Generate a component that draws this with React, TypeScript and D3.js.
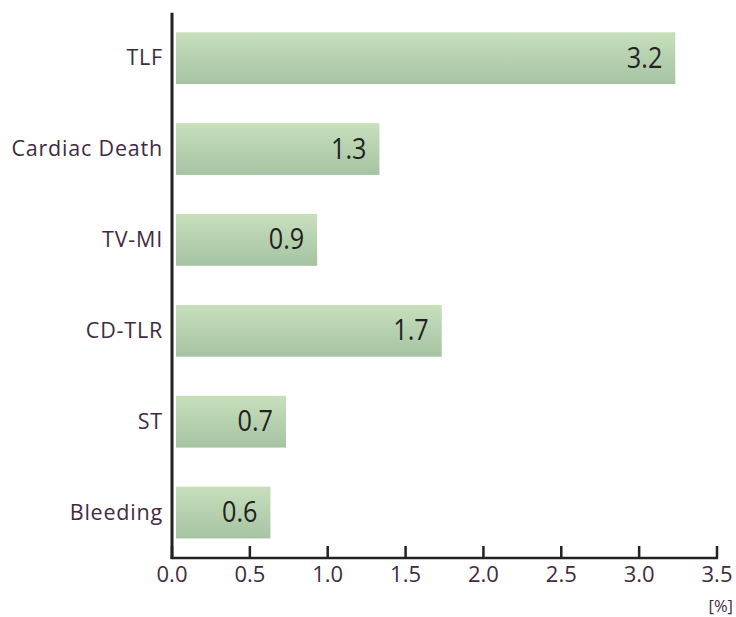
import React from "react";
import * as d3 from "d3";

const categories = ["TLF", "Cardiac Death", "TV-MI", "CD-TLR", "ST", "Bleeding"];
const values = [3.2, 1.3, 0.9, 1.7, 0.7, 0.6];
const ticks = [0, 0.5, 1.0, 1.5, 2.0, 2.5, 3.0, 3.5];
const unitLabel = "[%]";

const W = 736;
const H = 617;
const FONT = "'Open Sans', 'Noto Sans', sans-serif";
const TEXT = "#3f2b3f";

export default function App() {
  const x = d3.scaleLinear().domain([0, 3.5]).range([172, 717]);
  const y = d3.scaleBand<string>().domain(categories).range([12.7, 558]).paddingInner(0.43).paddingOuter(0.215);
  const bh = y.bandwidth();
  return (
    <svg width={W} height={H} style={{ position: "absolute", left: 0, top: 0 }}>
      <defs>
        <linearGradient id="barGrad" x1="0" y1="0" x2="0" y2="1">
          <stop offset="0%" stopColor="#c8dfbb" />
          <stop offset="100%" stopColor="#a5c3a3" />
        </linearGradient>
      </defs>
      {categories.map((c, i) => {
        const y0 = y(c)!;
        const x0 = x(0) + 4;
        const w = x(values[i]) - x(0) + 1;
        return (
          <g key={c}>
            <rect x={x0} y={y0} width={w} height={bh} fill="url(#barGrad)" />
            <g transform={`translate(${x0 + w - 13},${y0 + bh / 2 + 9.5}) scale(0.84,1)`}>
              <text x={0} y={0} textAnchor="end" fontFamily={FONT} fontSize={30} fill="#222">
                {values[i].toFixed(1)}
              </text>
            </g>
            <text x={163} y={y0 + bh / 2} dy="0.34em" textAnchor="end" fontFamily={FONT} fontSize={21.5} letterSpacing={0.8} fill={TEXT}>
              {c}
            </text>
          </g>
        );
      })}
      <line x1={172} x2={172} y1={12.7} y2={559} stroke="#222" strokeWidth={3} />
      <line x1={170.5} x2={718} y1={558} y2={558} stroke="#222" strokeWidth={2.5} />
      {ticks.map((t) => (
        <g key={t}>
          <line x1={x(t)} x2={x(t)} y1={546} y2={558} stroke="#222" strokeWidth={2.5} />
          <text x={x(t)} y={582} textAnchor="middle" fontFamily={FONT} fontSize={22} fill={TEXT}>
            {t.toFixed(1)}
          </text>
        </g>
      ))}
      <text x={733} y={612} textAnchor="end" fontFamily={FONT} fontSize={16.5} fill={TEXT}>
        {unitLabel}
      </text>
    </svg>
  );
}
